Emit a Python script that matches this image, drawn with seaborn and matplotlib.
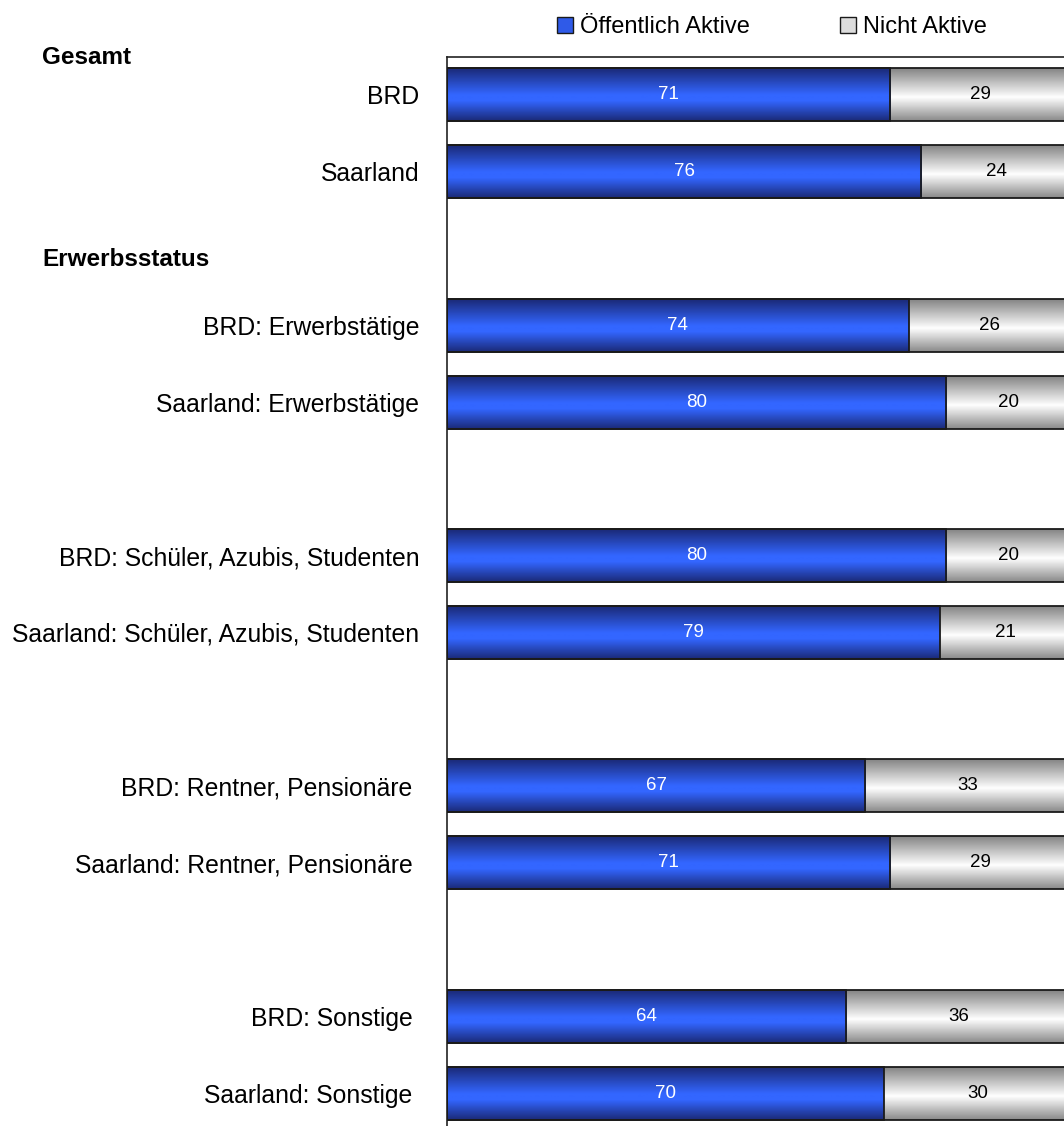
import numpy as np
import pandas as pd
import matplotlib
matplotlib.use("Agg")
import matplotlib.pyplot as plt
from matplotlib.colors import LinearSegmentedColormap
from matplotlib.patches import Patch
import seaborn as sns

# ---- data ----
categories = ["BRD", "Saarland", " ",
              "BRD: Erwerbstätige", "Saarland: Erwerbstätige", "  ",
              "BRD: Schüler, Azubis, Studenten", "Saarland: Schüler, Azubis, Studenten", "   ",
              "BRD: Rentner, Pensionäre ", "Saarland: Rentner, Pensionäre ", "    ",
              "BRD: Sonstige ", "Saarland: Sonstige "]
aktive = [71, 76, np.nan, 74, 80, np.nan, 80, 79, np.nan, 67, 71, np.nan, 64, 70]
nicht = [29, 24, np.nan, 26, 20, np.nan, 20, 21, np.nan, 33, 29, np.nan, 36, 30]
series_names = ["Öffentlich Aktive", "Nicht Aktive"]
group_headers = ["Gesamt", "Erwerbsstatus"]

df = pd.DataFrame({"cat": categories, "aktive": aktive, "nicht": nicht})
df["total"] = df["aktive"] + df["nicht"]

sns.set_style("white")
plt.rcParams["font.family"] = ["Liberation Sans", "DejaVu Sans"]
plt.rcParams["text.color"] = "black"

W, H = 1064, 1126
fig = plt.figure(figsize=(W / 100, H / 100), dpi=100)
ax_left = 447
ax_right = 1071
ax_top = 56.5
ax_bottom = 1131.5
ax = fig.add_axes([ax_left / W, (H - ax_bottom) / H, (ax_right - ax_left) / W, (ax_bottom - ax_top) / H])

bar_w = 0.69
sns.barplot(data=df, x="total", y="cat", order=categories, color="#bbbbbb",
            width=bar_w, orient="h", ax=ax, errorbar=None)
n_gray = len(ax.patches)
sns.barplot(data=df, x="aktive", y="cat", order=categories, color="#3366ff",
            width=bar_w, orient="h", ax=ax, errorbar=None)

blue_cmap = LinearSegmentedColormap.from_list(
    "b", [(0, "#1b2a78"), (0.5, "#3366ff"), (0.62, "#3366ff"), (1, "#1b2a78")])
gray_cmap = LinearSegmentedColormap.from_list(
    "g", [(0, "#858585"), (0.55, "#ffffff"), (1, "#8a8a8a")])
grad = np.linspace(0, 1, 64).reshape(-1, 1)

for i, p in enumerate(ax.patches):
    w = p.get_width()
    if not np.isfinite(w) or w == 0:
        continue
    x0, y0 = p.get_x(), p.get_y()
    h = p.get_height()
    is_gray = i < n_gray
    cmap = gray_cmap if is_gray else blue_cmap
    ax.imshow(grad, cmap=cmap, aspect="auto", interpolation="bilinear",
              extent=(x0, x0 + w, y0 + h, y0), zorder=1 if is_gray else 2)
    p.set_facecolor("none")
    p.set_edgecolor("#1a1a1a")
    p.set_linewidth(1.3)
    p.set_zorder(3)

# value labels
for i, c in enumerate(categories):
    a, n = aktive[i], nicht[i]
    if np.isnan(a):
        continue
    ax.text(a / 2, i, f"{int(a)}", ha="center", va="center", color="white", fontsize=13.5, zorder=5)
    ax.text(a + n / 2, i, f"{int(n)}", ha="center", va="center", color="black", fontsize=13.5, zorder=5)

ax.set_xlim(0, 100)
ax.set_ylim(len(categories) - 0.5, -0.5)
ax.set_xlabel("")
ax.set_ylabel("")
ax.set_xticks([])
ax.tick_params(axis="y", length=0, pad=20, labelsize=17.8, labelcolor="black")
for s in ax.spines.values():
    s.set_color("#222222")
    s.set_linewidth(1.2)

# group headers
fig.text(42 / W, 1 - 58 / H, group_headers[0], fontsize=17.5, fontweight="bold",
         va="center", ha="left", color="black")
fig.text(42 / W, 1 - 260 / H, group_headers[1], fontsize=17.5, fontweight="bold",
         va="center", ha="left", color="black")

# legend
handles = [Patch(facecolor="#2f5ae8", edgecolor="#1a1a1a", label=series_names[0]),
           Patch(facecolor="#dcdcdc", edgecolor="#1a1a1a", label=series_names[1])]
fig.legend(handles=handles, loc="center", bbox_to_anchor=(772 / W, 1 - 27 / H), ncol=2,
           frameon=False, fontsize=17, handlelength=0.68, handleheight=0.68,
           handletextpad=0.3, columnspacing=3.8, labelcolor="black")

fig.savefig("out.png", dpi=100)
